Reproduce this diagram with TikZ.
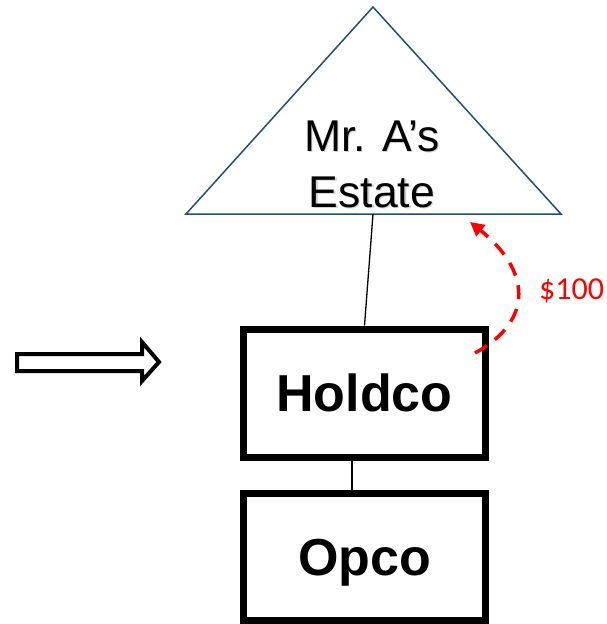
\documentclass[tikz,border=0pt]{standalone}
\usepackage{fontspec}
\setmainfont{Liberation Sans}
\newfontfamily\carlito{Carlito}
\usetikzlibrary{arrows.meta}
\definecolor{tridark}{HTML}{1F4E79}
\tikzset{
  entbox/.style={draw=black, line width=7pt, minimum width=242pt, minimum height=128pt,
    inner sep=0pt, text height=37pt, text depth=0pt,
    font=\fontsize{52}{60}\selectfont\bfseries},
  estatetext/.style={anchor=base, inner sep=0pt, font=\fontsize{44.5}{52}\selectfont},
  estateshadow/.style={estatetext, text=black!18},
  link/.style={draw=black, line width=1.3pt},
  payflow/.style={draw=red, line width=3.5pt, dash pattern=on 14pt off 10pt,
    -{Triangle[length=14pt,width=14pt]}},
}
\begin{document}
\begin{tikzpicture}[x=1pt,y=-1pt]
\useasboundingbox (0,0) rectangle (606,624);
% estate triangle
\coordinate (apex) at (373,7);
\coordinate (bl) at (186,214);
\coordinate (br) at (561,214);
\coordinate (estbase) at (373,214);
\draw[tridark, line width=1.5pt, line join=miter] (apex) -- (br) -- (bl) -- cycle;
\node[estateshadow] (est1s) at (373.2,152.4) {Mr. A’s};
\node[estateshadow] (est2s) at (373.2,208.4) {Estate};
\node[estatetext] (est1) at (372,151) {Mr. A’s};
\node[estatetext] (est2) at (372,207) {Estate};
% boxes
\node[entbox] (holdco) at (364.5,393) {Holdco};
\node[entbox, minimum height=127.5pt] (opco) at (364.5,557) {Opco};
% connectors
\draw[link] (estbase) -- (holdco.north);
\draw[link] ([xshift=-12.5pt]holdco.south) -- ([xshift=-12.5pt]opco.north);
% dividend flow
\coordinate (flowstart) at (475,353);
\coordinate (flowend) at (470,222);
\draw[payflow] (flowstart) .. controls (535,320) and (530,270) .. (flowend);
\node[anchor=base west, inner sep=0pt, text=red, font=\carlito\fontsize{32}{36}\selectfont] (amt) at (539,299.5) {\$100};
% block arrow
\draw[black, line width=4pt, line join=miter, fill=white]
  (17,354) -- (142,354) -- (142,342) -- (159,362) -- (142,381) -- (142,371) -- (17,371) -- cycle;
\end{tikzpicture}
\end{document}
